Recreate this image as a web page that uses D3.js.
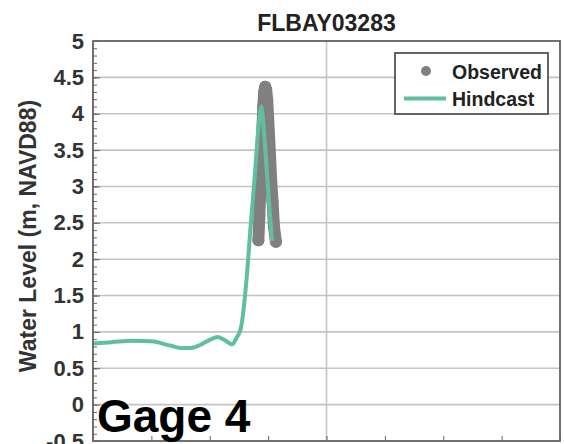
<!DOCTYPE html>
<html>
<head>
<meta charset="utf-8">
<script src="https://cdn.jsdelivr.net/npm/d3@7"></script>
<style>
  body { margin: 0; background: #fff; }
  svg text { font-family: "Liberation Sans", Arial, sans-serif; font-weight: bold; }
</style>
</head>
<body>
<div id="chart"></div>
<script>
// hours since start of the window
var hindHours = [0, 2, 4, 6, 8, 9, 10, 11, 12, 12.8, 13.5, 14.3, 14.8, 15.2, 15.8, 16.2, 16.6, 17.0, 17.3, 17.6, 18.0, 18.4]
var hindLevel = [0.84, 0.86, 0.88, 0.87, 0.81, 0.78, 0.78, 0.82, 0.89, 0.93, 0.89, 0.83, 0.93, 1.05, 1.75, 2.45, 3.10, 3.80, 4.10, 3.70, 2.95, 2.25]

var obsHours = [17.0, 17.1, 17.2, 17.3, 17.4, 17.5, 17.6, 17.7, 17.8, 17.9, 18.0, 18.1, 18.2, 18.3, 18.45, 18.6, 18.8]
var obsLevel = [2.26, 2.60, 2.95, 3.35, 3.75, 4.10, 4.30, 4.37, 4.33, 4.20, 3.95, 3.68, 3.40, 3.12, 2.80, 2.45, 2.24]

var yMajor = [-0.5, 0, 0.5, 1, 1.5, 2, 2.5, 3, 3.5, 4, 4.5, 5]
var xMajor = [0, 24, 48]
var xMinor = [6, 12, 18, 30, 36, 42]

function drawChart() {
  var width = 564, height = 444
  // plot box edges (note: "top" is reserved on window, so use other names)
  var pLeft = 93, pRight = 560, pTop = 41, pBottom = 441

  var svg = d3.select("#chart").append("svg").attr("width", width).attr("height", height)

  var x = d3.scaleLinear().domain([0, 48]).range([pLeft, pRight])
  var y = d3.scaleLinear().domain([-0.5, 5]).range([pBottom, pTop])

  // grid
  svg.append("g").selectAll("line")
    .data(yMajor).enter().append("line")
    .attr("x1", pLeft).attr("x2", pRight)
    .attr("y1", function(d) { return y(d) }).attr("y2", function(d) { return y(d) })
    .attr("stroke", "#c4c4c4").attr("stroke-width", 1.6)

  svg.append("g").selectAll("line")
    .data(xMajor).enter().append("line")
    .attr("x1", function(d) { return x(d) }).attr("x2", function(d) { return x(d) })
    .attr("y1", pTop).attr("y2", pBottom)
    .attr("stroke", "#c4c4c4").attr("stroke-width", 1.6)

  // minor y ticks every 0.1
  var yMinor = d3.range(-5, 51).map(function(i) { return i / 10 })
  svg.append("g")
    .attr("transform", "translate(" + pLeft + ",0)")
    .call(d3.axisRight(y).tickValues(yMinor).tickSize(4).tickFormat(""))
    .call(function(g) { g.select(".domain").remove(); g.selectAll("line").attr("stroke", "#666") })

  // major y ticks + labels
  var yAxis = svg.append("g")
    .attr("transform", "translate(" + pLeft + ",0)")
    .call(d3.axisLeft(y).tickValues(yMajor).tickSize(-7).tickPadding(9).tickFormat(function(d) { return d }))
  yAxis.select(".domain").remove()
  yAxis.selectAll("line").attr("stroke", "#666")
  yAxis.selectAll("text").attr("font-size", 22).attr("fill", "#333")
    .style("font-family", '"Liberation Sans", Arial, sans-serif').style("font-weight", "bold")

  // x ticks along the bottom, pointing in
  var xAxis = svg.append("g")
    .attr("transform", "translate(0," + pBottom + ")")
    .call(d3.axisTop(x).tickValues(xMinor.concat(xMajor)).tickSize(5).tickFormat(""))
  xAxis.select(".domain").remove()
  xAxis.selectAll("line").attr("stroke", "#666")

  // observed: dense markers, drawn as a thick trail plus dots
  var obs = obsHours.map(function(h, i) { return [h, obsLevel[i]] })
  var lineGen = d3.line().x(function(d) { return x(d[0]) }).y(function(d) { return y(d[1]) })
  svg.append("path").datum(obs)
    .attr("d", lineGen)
    .attr("fill", "none").attr("stroke", "#808080").attr("stroke-width", 12)
    .attr("stroke-linecap", "round").attr("stroke-linejoin", "round")
  svg.append("g").selectAll("circle")
    .data(obs).enter().append("circle")
    .attr("cx", function(d) { return x(d[0]) }).attr("cy", function(d) { return y(d[1]) })
    .attr("r", 6).attr("fill", "#808080")

  // hindcast
  var hind = hindHours.map(function(h, i) { return [h, hindLevel[i]] })
  svg.append("path").datum(hind)
    .attr("d", d3.line().curve(d3.curveMonotoneX).x(function(d) { return x(d[0]) }).y(function(d) { return y(d[1]) }))
    .attr("fill", "none").attr("stroke", "#5fbf9e").attr("stroke-width", 4)
    .attr("stroke-linejoin", "round")

  // frame
  svg.append("rect")
    .attr("x", pLeft).attr("y", pTop).attr("width", pRight - pLeft).attr("height", pBottom - pTop)
    .attr("fill", "none").attr("stroke", "#666").attr("stroke-width", 1.8)

  // title
  svg.append("text")
    .attr("x", (pLeft + pRight) / 2).attr("y", 31)
    .attr("text-anchor", "middle").attr("font-size", 23).attr("fill", "#222")
    .text("FLBAY03283")

  // y label
  svg.append("text")
    .attr("transform", "translate(36,236) rotate(-90)")
    .attr("text-anchor", "middle").attr("font-size", 23).attr("fill", "#333")
    .text("Water Level (m, NAVD88)")

  // legend
  var lg = svg.append("g")
  lg.append("rect").attr("x", 395).attr("y", 53).attr("width", 153).attr("height", 61)
    .attr("fill", "#fff").attr("stroke", "#555").attr("stroke-width", 1.8)
  lg.append("circle").attr("cx", 426).attr("cy", 71).attr("r", 5).attr("fill", "#808080")
  lg.append("line").attr("x1", 404).attr("x2", 446).attr("y1", 98.5).attr("y2", 98.5)
    .attr("stroke", "#5fbf9e").attr("stroke-width", 4)
  lg.append("text").attr("x", 452).attr("y", 79).attr("font-size", 19.5).attr("fill", "#222").text("Observed")
  lg.append("text").attr("x", 452).attr("y", 106).attr("font-size", 19.5).attr("fill", "#222").text("Hindcast")

  // panel tag
  svg.append("text")
    .attr("x", 97).attr("y", 432)
    .attr("font-size", 46).attr("fill", "#000")
    .text("Gage 4")
}

drawChart()
</script>
</body>
</html>
